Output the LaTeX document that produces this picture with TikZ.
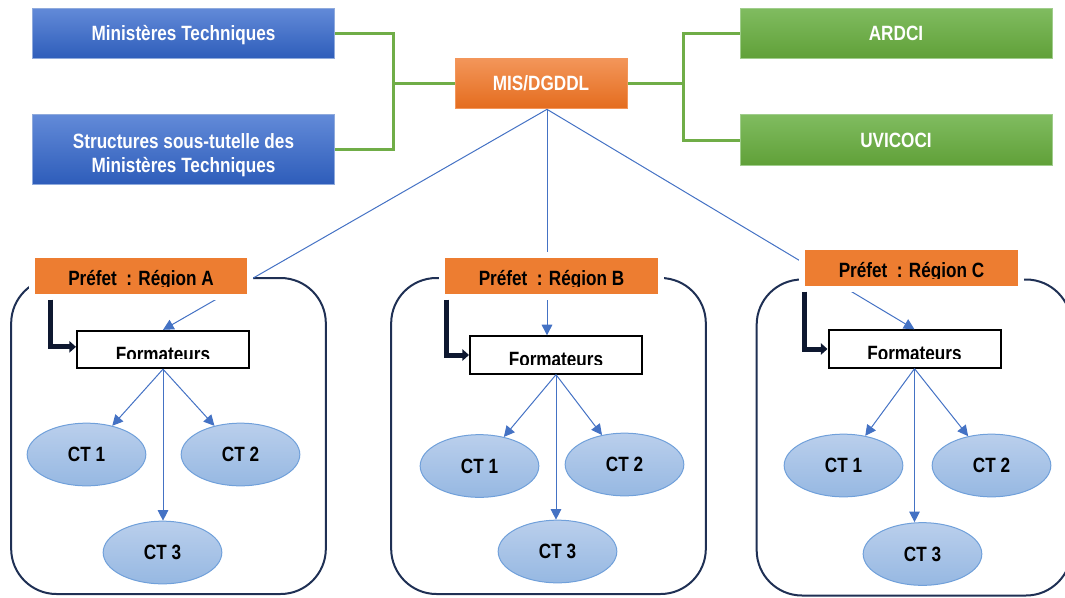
\documentclass[tikz,border=0pt]{standalone}
\usepackage{fontspec}
\newfontfamily\diagfont{Liberation Sans}[FakeStretch=0.83]
\usetikzlibrary{shapes.geometric,arrows.meta,calc}

\newcommand{\boxfont}{\diagfont\bfseries\fontsize{15.5}{18}\selectfont}
% text cut off at the bottom, as in the boxes of the original
\newcommand{\cutlabel}[5]{%
  \begin{scope}
    \clip (#2.north west) rectangle ($(#2.south east)+(0,-#5)$);
    \node[anchor=base, inner sep=0, font=\boxfont] (#1) at ($(#2.south)+(0,-#4)$) {#3};
  \end{scope}}

\definecolor{topblue}{RGB}{98,138,216}
\definecolor{botblue}{RGB}{46,93,186}
\definecolor{rimblue}{RGB}{143,170,220}
\definecolor{topgreen}{RGB}{128,188,96}
\definecolor{botgreen}{RGB}{96,160,56}
\definecolor{rimgreen}{RGB}{160,205,140}
\definecolor{toporange}{RGB}{243,150,90}
\definecolor{botorange}{RGB}{228,108,30}
\definecolor{prefetorange}{RGB}{237,125,49}
\definecolor{linkblue}{RGB}{68,114,196}
\definecolor{linkgreen}{RGB}{112,173,71}
\definecolor{regionnavy}{RGB}{31,48,84}
\definecolor{elbownavy}{RGB}{14,24,48}
\definecolor{cttop}{RGB}{186,207,236}
\definecolor{ctbot}{RGB}{150,184,226}
\definecolor{ctrim}{RGB}{112,160,218}

\tikzset{every picture/.style={line width=0.75pt}}
\tikzset{
  ministry/.style={draw=rimblue, line width=0.75, top color=topblue, bottom color=botblue,
    text=white, font=\boxfont, minimum width=227pt, inner sep=0, align=center},
  partner/.style={draw=rimgreen, line width=0.75, top color=topgreen, bottom color=botgreen,
    text=white, font=\boxfont, minimum width=234pt, minimum height=38pt, inner sep=0},
  centralbox/.style={draw=toporange, line width=0.75, top color=toporange, bottom color=botorange,
    text=white, font=\boxfont, minimum width=129pt, minimum height=38pt, inner sep=0},
  prefetbox/.style={draw=white, line width=4.5, fill=prefetorange,
    minimum width=164pt, minimum height=31.5pt, inner sep=0},
  trainerbox/.style={draw=black, line width=1.5, fill=white,
    minimum width=129pt, minimum height=28pt, inner sep=0},
  ctnode/.style={ellipse, draw=ctrim, line width=0.75, top color=cttop, bottom color=ctbot,
    minimum width=89pt, minimum height=47pt, inner sep=0, font=\boxfont},
  regionbox/.style={draw=regionnavy, line width=1.5, rounded corners=34pt,
    minimum width=236pt, minimum height=237pt, inner sep=0},
  greenlink/.style={draw=linkgreen, line width=2.25},
  bluearrow/.style={draw=linkblue, line width=0.75, -{Triangle[length=8pt,width=8pt]}},
  elbowarrow/.style={draw=elbownavy, line width=3.75, -{Triangle[length=5pt,width=8.5pt]}}
}

\begin{document}
\begin{tikzpicture}[x=0.75pt,y=0.75pt,yscale=-1,xscale=1]
    \useasboundingbox (0,0) rectangle (1065,597);
    \clip (0,0) rectangle (1065,597);

    %Region frames
    \node[regionbox] (rega) at (168.5,436) {};
    \node[regionbox] (regb) at (548.5,436) {};
    \node[regionbox] (regc) at (914,437.5) {};

    %Top row
    \node[ministry, minimum height=38pt] (mint) at (183.5,33.5) {\rule{0pt}{14pt}Ministères Techniques};
    \node[ministry, minimum height=52pt] (minst) at (183.5,149.5) {\rule{0pt}{19pt}Structures sous-tutelle des\\Ministères Techniques};
    \node[centralbox] (mis) at (541,83.5) {MIS/DGDDL};
    \node[partner] (ardci) at (896,33.5) {ARDCI};
    \node[partner] (uvicoci) at (896,140) {UVICOCI};

    %Green links
    \coordinate (jleft) at (393,83.5);
    \coordinate (jright) at (683,83.5);
    \draw[greenlink] (mint.east) -| (jleft) |- (minst.east);
    \draw[greenlink] (jleft) -- (mis.west);
    \draw[greenlink] (ardci.west) -| (jright) |- (uvicoci.west);
    \draw[greenlink] (jright) -- (mis.east);

    %Formateurs boxes
    \node[trainerbox] (forma) at (163,349.5) {};
    \node[trainerbox] (formb) at (556,355) {};
    \node[trainerbox] (formc) at (914.5,349) {};

    %Lines from MIS/DGDDL
    \coordinate (misfoot) at ($(mis.south)+(6,0)$);
    \draw[bluearrow] (misfoot) -- (forma.north);
    \draw[bluearrow] (misfoot) -- (misfoot |- formb.north);
    \draw[bluearrow] (misfoot) -- (formc.north);

    %Prefet boxes
    \node[prefetbox] (prefa) at (141,275.5) {};
    \node[prefetbox] (prefb) at (551.5,275.5) {};
    \node[prefetbox] (prefc) at (911.5,267.5) {};

    % Text Nodes
    \cutlabel{prefatext}{prefa}{Préfet \ : Région A}{14.5}{13}
    \cutlabel{prefbtext}{prefb}{Préfet \ : Région B}{14.5}{13}
    \cutlabel{prefctext}{prefc}{Préfet \ : Région C}{14.5}{13}
    \cutlabel{formatext}{forma}{Formateurs}{8}{10.5}
    \cutlabel{formbtext}{formb}{Formateurs}{8}{10.5}
    \cutlabel{formctext}{formc}{Formateurs}{8}{10.5}

    %Elbow arrows
    \draw[elbowarrow] ($(prefa.south west)+(22,0)$) |- ([yshift=-2pt]forma.west);
    \draw[elbowarrow] ($(prefb.south west)+(7,0)$) |- (formb.west);
    \draw[elbowarrow] ($(prefc.south west)+(5,0)$) |- (formc.west);

    %CT ellipses
    \node[ctnode] (cta1) at (86.5,454.5) {CT 1};
    \node[ctnode] (cta2) at (240.5,454.5) {CT 2};
    \node[ctnode] (cta3) at (162.5,552.5) {CT 3};
    \node[ctnode] (ctb1) at (479.5,466) {CT 1};
    \node[ctnode] (ctb2) at (624.5,464.5) {CT 2};
    \node[ctnode] (ctb3) at (557.5,551.5) {CT 3};
    \node[ctnode] (ctc1) at (843.5,465.5) {CT 1};
    \node[ctnode] (ctc2) at (991.5,465.5) {CT 2};
    \node[ctnode] (ctc3) at (922.5,554) {CT 3};

    \foreach \r in {a,b,c}{
      \draw[bluearrow] (form\r.south) -- (ct\r1);
      \draw[bluearrow] (form\r.south) -- (ct\r2);
      \draw[bluearrow] (form\r.south) -- (form\r.south |- ct\r3.north);
    }

\end{tikzpicture}
\end{document}
